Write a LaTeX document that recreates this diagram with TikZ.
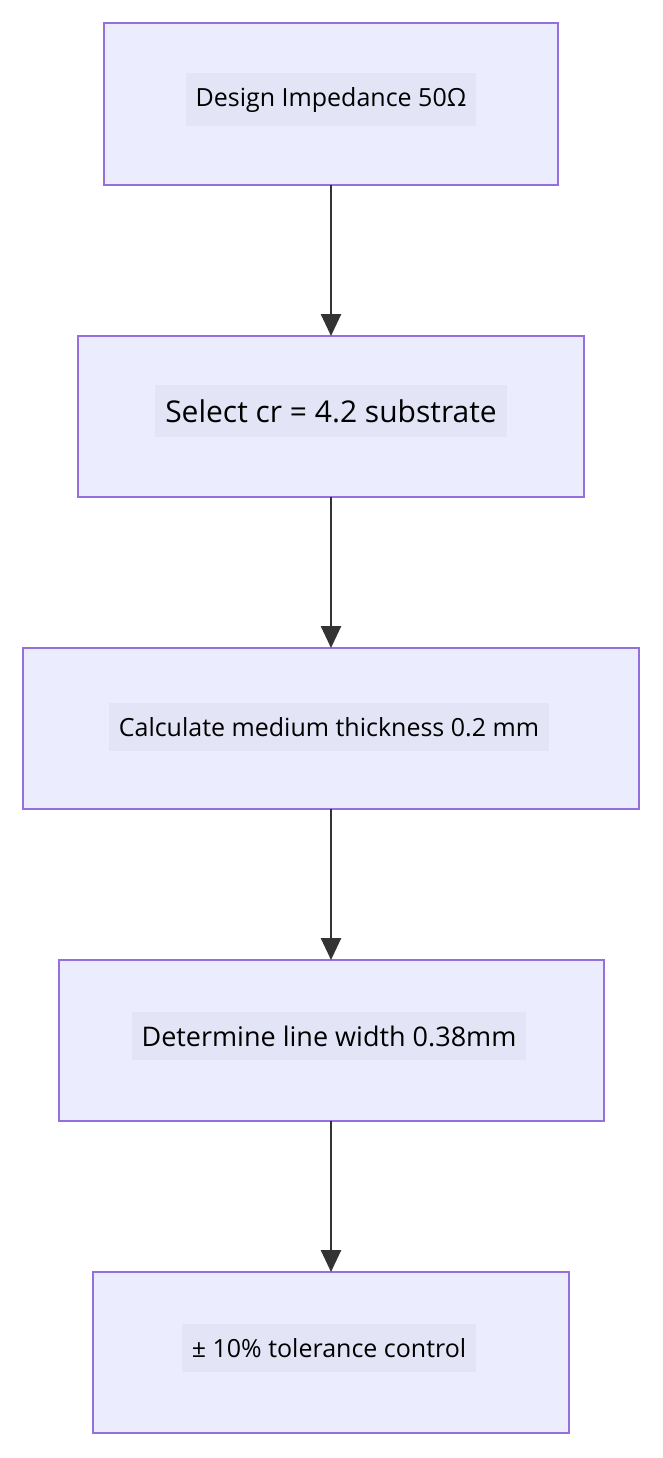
\documentclass[tikz,border=0pt]{standalone}
\usepackage{fontspec}
\setmainfont{Open Sans}
\usetikzlibrary{arrows.meta}
\definecolor{boxfill}{HTML}{ECECFF}
\definecolor{boxline}{HTML}{9370DB}
\definecolor{lblfill}{HTML}{E4E4F7}
\definecolor{arr}{HTML}{333333}
\begin{document}
\begin{tikzpicture}[x=1pt,y=-1pt,
  box/.style={draw=boxline,fill=boxfill,line width=2.5pt},
  lbl/.style={fill=lblfill,inner xsep=10pt,inner ysep=14pt,font=\fontsize{25}{30}\selectfont},
  conn/.style={draw=arr,line width=2.6pt,-{Triangle[length=22pt,width=20pt]}}]
\useasboundingbox (0,0) rectangle (663,1458);
\fill[white] (0,0) rectangle (663,1458);
\draw[box] (104,23) rectangle (558,185); \node[lbl] (a) at (331,100) {Design Impedance 50Ω};
\draw[box] (78,336) rectangle (584,497); \node[lbl,font=\fontsize{30}{36}\selectfont] (b) at (331,411) {Select cr = 4.2 substrate};
\draw[box] (23,648) rectangle (639,809); \node[lbl] (c) at (329,727) {Calculate medium thickness 0.2 mm};
\draw[box] (59,960) rectangle (604,1121); \node[lbl,font=\fontsize{27}{32}\selectfont] (d) at (329,1036) {Determine line width 0.38mm};
\draw[box] (93,1272) rectangle (569,1433); \node[lbl] (e) at (329,1348) {± 10\% tolerance control};
\coordinate (a1) at (331,185); \coordinate (b0) at (331,336);
\coordinate (b1) at (331,497); \coordinate (c0) at (331,648);
\coordinate (c1) at (331,809); \coordinate (d0) at (331,960);
\coordinate (d1) at (331,1121); \coordinate (e0) at (331,1272);
\draw[conn] (a1) -- (b0);
\draw[conn] (b1) -- (c0);
\draw[conn] (c1) -- (d0);
\draw[conn] (d1) -- (e0);
\end{tikzpicture}
\end{document}
